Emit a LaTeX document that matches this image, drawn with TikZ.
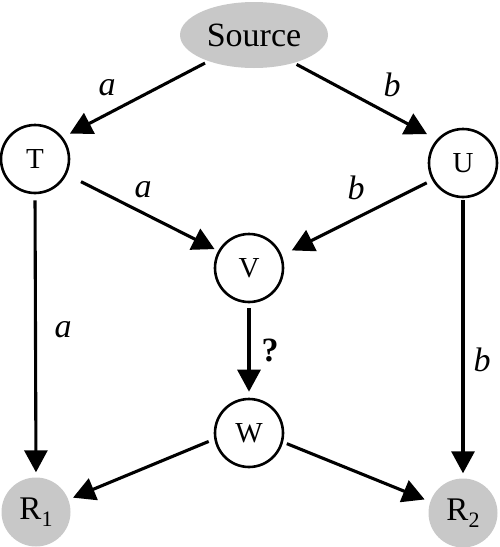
\documentclass[tikz,border=0pt]{standalone}
\usepackage{fontspec}
\setmainfont{Liberation Serif}
\usetikzlibrary{arrows.meta,shapes.geometric}
\definecolor{ngray}{RGB}{200,200,200}
\begin{document}
\begin{tikzpicture}[x=1pt,y=-1pt,
  circ/.style={circle,draw=black,line width=2.6pt,minimum size=68pt,inner sep=0pt,font=\fontsize{29}{32}\selectfont},
  res/.style={circle,fill=ngray,minimum size=69pt,inner sep=0pt,font=\fontsize{33}{36}\selectfont},
  arr/.style={line width=3.1pt,-{Triangle[length=22pt,width=23pt]}},
  lab/.style={font=\fontsize{34}{36}\selectfont\itshape,inner sep=0pt}]
\useasboundingbox (0,0) rectangle (500,547);
\node[ellipse,fill=ngray,minimum width=148pt,minimum height=66pt,inner sep=0pt,font=\fontsize{34}{38}\selectfont] (src) at (254,35) {Source};
\node[circ] (T) at (35,159) {T};
\node[circ] (U) at (463,163) {U};
\node[circ] (V) at (249,268) {V};
\node[circ] (W) at (249,433) {W};
\node[res] (R1) at (36,512) {R\raisebox{-0.22em}{\fontsize{22}{22}\selectfont 1}};
\node[res] (R2) at (463,513) {R\raisebox{-0.22em}{\fontsize{22}{22}\selectfont 2}};
\draw[arr,shorten <=4pt,shorten >=8pt] (src.210) -- (T.38);
\draw[arr,shorten <=3pt,shorten >=11pt] (src.325) -- (U.138);
\draw[arr,shorten <=16pt,shorten >=4pt] (T.-26) -- (V.151);
\draw[arr,shorten <=6pt,shorten >=11pt] (U.209) -- (V.21);
\draw[arr,shorten <=5pt,shorten >=6pt] (V.270) -- (W.90);
\draw[arr,shorten <=6pt,shorten >=5pt] (T.270) -- (R1.90);
\draw[arr,shorten <=2pt,shorten >=5pt] (U.270) -- (R2.90);
\draw[arr,shorten <=6pt,shorten >=5pt] (W.190) -- (R1.21);
\draw[arr,shorten <=4pt,shorten >=6pt] (W.-15) -- (R2.161);
\node[lab] (la1) at (107,88) {a};
\node[lab] (lb1) at (392,85) {b};
\node[lab] (la2) at (143,190) {a};
\node[lab] (lb2) at (356,188) {b};
\node[lab] (la3) at (63,330) {a};
\node[lab] (lb3) at (482,360) {b};
\node[font=\fontsize{34}{36}\selectfont\bfseries,inner sep=0pt] (q) at (270,350) {?};
\end{tikzpicture}
\end{document}
